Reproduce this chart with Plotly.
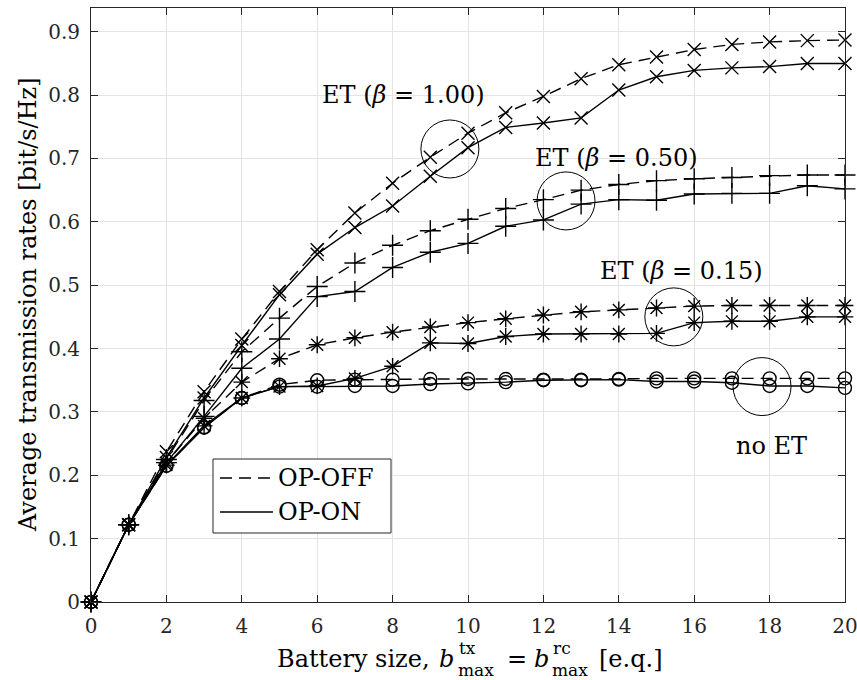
import plotly.graph_objects as go

# Battery size axis (energy quanta)
battery = list(range(21))

# Average transmission rates [bit/s/Hz]
rate_off_b100 = [0, 0.122, 0.237, 0.332, 0.415, 0.490, 0.556, 0.614, 0.661, 0.702, 0.740,
                 0.772, 0.798, 0.826, 0.848, 0.860, 0.872, 0.880, 0.884, 0.886, 0.887]
rate_on_b100 = [0, 0.122, 0.228, 0.322, 0.405, 0.485, 0.549, 0.591, 0.625, 0.672, 0.717,
                0.749, 0.756, 0.764, 0.808, 0.829, 0.839, 0.843, 0.845, 0.850, 0.850]
rate_off_b050 = [0, 0.122, 0.225, 0.318, 0.395, 0.448, 0.498, 0.535, 0.563, 0.586, 0.604,
                 0.621, 0.635, 0.650, 0.659, 0.665, 0.668, 0.670, 0.673, 0.674, 0.674]
rate_on_b050 = [0, 0.122, 0.220, 0.293, 0.369, 0.415, 0.482, 0.490, 0.528, 0.552, 0.566,
                0.593, 0.603, 0.628, 0.635, 0.634, 0.644, 0.645, 0.645, 0.657, 0.652]
rate_off_b015 = [0, 0.122, 0.220, 0.290, 0.347, 0.384, 0.406, 0.417, 0.426, 0.434, 0.441,
                 0.447, 0.453, 0.458, 0.461, 0.464, 0.467, 0.468, 0.468, 0.468, 0.468]
rate_on_b015 = [0, 0.122, 0.216, 0.278, 0.322, 0.340, 0.341, 0.353, 0.372, 0.409, 0.408,
                0.419, 0.423, 0.423, 0.423, 0.424, 0.441, 0.443, 0.443, 0.450, 0.450]
rate_off_none = [0, 0.122, 0.215, 0.276, 0.322, 0.343, 0.350, 0.351, 0.351, 0.352, 0.352,
                 0.352, 0.351, 0.351, 0.352, 0.353, 0.353, 0.353, 0.353, 0.353, 0.353]
rate_on_none = [0, 0.122, 0.215, 0.275, 0.322, 0.340, 0.340, 0.341, 0.341, 0.344, 0.345,
                0.347, 0.350, 0.350, 0.351, 0.348, 0.348, 0.346, 0.341, 0.341, 0.338]

x_ticks = list(range(0, 21, 2))
y_ticks = [0, 0.1, 0.2, 0.3, 0.4, 0.5, 0.6, 0.7, 0.8, 0.9]
y_tick_text = ["0", "0.1", "0.2", "0.3", "0.4", "0.5", "0.6", "0.7", "0.8", "0.9"]

# Figure geometry (pixels)
W, H = 857, 680
ML, MR, MT, MB = 91, 12, 8, 78
PW, PH = W - ML - MR, H - MT - MB


def fx(p):
    """pixel column -> paper x"""
    return (p - ML) / PW


def fy(p):
    """pixel row -> paper y"""
    return (H - MB - p) / PH


FONT = "DejaVu Serif"
INK = "#262626"
DASH = "12px,7px"

series = [
    (rate_off_b100, "x-thin-open", DASH, 13),
    (rate_on_b100, "x-thin-open", "solid", 13),
    (rate_off_b050, "cross-thin-open", DASH, 15),
    (rate_on_b050, "cross-thin-open", "solid", 15),
    (rate_off_b015, "asterisk-open", DASH, 14),
    (rate_on_b015, "asterisk-open", "solid", 14),
    (rate_off_none, "circle-open", DASH, 13),
    (rate_on_none, "circle-open", "solid", 13),
]

fig = go.Figure()
for vals, sym, dash, msize in series:
    fig.add_trace(go.Scatter(
        x=battery, y=vals, mode="lines+markers",
        line=dict(color="black", width=1.4, dash=dash),
        marker=dict(symbol=sym, size=msize, color="black",
                    line=dict(color="black", width=1.4)),
        cliponaxis=False, showlegend=False, hoverinfo="skip",
    ))

# Group labels and highlighting circles (centre x, centre y)
labels = [
    ("ET (<i>β</i> = 1.00)", 8.3, 0.800),
    ("ET (<i>β</i> = 0.50)", 13.93, 0.700),
    ("ET (<i>β</i> = 0.15)", 15.65, 0.522),
    ("no ET", 18.04, 0.246),
]
circles = [(9.52, 0.715), (12.6, 0.633), (15.46, 0.450), (17.8, 0.340)]
rx, ry = 29 / (PW / 20), 29 / (PH / 0.9375)

annotations = []
for txt, ax_, ay_ in labels:
    annotations.append(dict(x=ax_, y=ay_, xref="x", yref="y", text=txt, showarrow=False,
                            font=dict(family=FONT, size=24, color="black"),
                            xanchor="center", yanchor="middle"))

shapes = []
for cx, cy in circles:
    shapes.append(dict(type="circle", xref="x", yref="y",
                       x0=cx - rx, x1=cx + rx, y0=cy - ry, y1=cy + ry,
                       line=dict(color="black", width=1)))

# Legend box
shapes.append(dict(type="rect", xref="paper", yref="paper",
                   x0=fx(213), x1=fx(391), y0=fy(533), y1=fy(459),
                   line=dict(color=INK, width=1), fillcolor="white", layer="above"))
for row_y, dash, name in [(478, DASH, "OP-OFF"), (512, "solid", "OP-ON")]:
    shapes.append(dict(type="line", xref="paper", yref="paper",
                       x0=fx(220), x1=fx(273), y0=fy(row_y), y1=fy(row_y),
                       line=dict(color="black", width=1.4, dash=dash), layer="above"))
    annotations.append(dict(x=fx(276), y=fy(row_y), xref="paper", yref="paper", text=name,
                            showarrow=False, xanchor="left", yanchor="middle",
                            font=dict(family=FONT, size=24, color="black")))

# X-axis title with stacked super/subscripts
main_y, sup_y, sub_y = 659, 648, 670
xt_parts = [
    ("Battery size,", 275, main_y, 24),
    ("<i>b</i>", 437, main_y, 24),
    ("tx", 457, sup_y, 17),
    ("max", 456, sub_y, 17),
    ("=", 505, main_y, 24),
    ("<i>b</i>", 532, main_y, 24),
    ("rc", 551, sup_y, 17),
    ("max", 550, sub_y, 17),
    ("[e.q.]", 597, main_y, 24),
]
for txt, px_, py_, fs in xt_parts:
    annotations.append(dict(x=fx(px_), y=fy(py_), xref="paper", yref="paper", text=txt,
                            showarrow=False, xanchor="left", yanchor="middle",
                            font=dict(family=FONT, size=fs, color="black")))

# Y-axis title
annotations.append(dict(x=fx(28), y=0.5, xref="paper", yref="paper",
                        text="Average transmission rates [bit/s/Hz]", textangle=-90,
                        showarrow=False, xanchor="center", yanchor="middle",
                        font=dict(family=FONT, size=24, color="black")))

axis_common = dict(showline=True, linecolor=INK, linewidth=1, mirror="ticks",
                   ticks="inside", ticklen=7, tickcolor=INK, tickwidth=1,
                   showgrid=True, gridcolor="#e4e4e4", gridwidth=1, zeroline=False,
                   automargin=False, ticklabeloverflow="allow",
                   tickfont=dict(family=FONT, size=20, color=INK))

fig.update_layout(
    width=W, height=H,
    margin=dict(l=ML, r=MR, t=MT, b=MB),
    paper_bgcolor="white", plot_bgcolor="white",
    font=dict(family=FONT),
    xaxis=dict(range=[0, 20], tickvals=x_ticks, ticklabelstandoff=6, **axis_common),
    yaxis=dict(range=[0, 0.9375], tickvals=y_ticks, ticktext=y_tick_text,
               ticklabelstandoff=6, **axis_common),
    shapes=shapes, annotations=annotations, showlegend=False,
)

fig.write_html("out.html")
